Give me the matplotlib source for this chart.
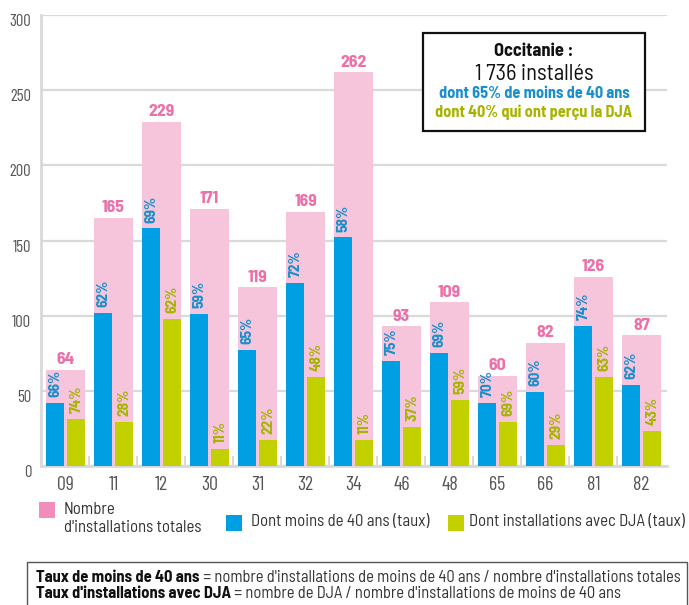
import matplotlib
matplotlib.use("Agg")
import matplotlib.pyplot as plt
from matplotlib.patches import Rectangle
from matplotlib.transforms import ScaledTranslation
from matplotlib import font_manager as fm
import numpy as np

# ---------------- data ----------------
departements = ["09", "11", "12", "30", "31", "32", "34", "46", "48", "65", "66", "81", "82"]
totales = [64, 165, 229, 171, 119, 169, 262, 93, 109, 60, 82, 126, 87]
moins40 = [42, 102, 158, 101, 77, 122, 152, 70, 75, 42, 49, 93, 54]
taux_moins40 = ["66%", "62%", "69%", "59%", "65%", "72%", "58%", "75%", "69%", "70%", "60%", "74%", "62%"]
dja = [31, 29, 98, 11, 17, 59, 17, 26, 44, 29, 14, 59, 23]
taux_dja = ["74%", "28%", "62%", "11%", "22%", "48%", "11%", "37%", "59%", "69%", "29%", "63%", "43%"]
yticks = [0, 50, 100, 150, 200, 250, 300]

# ---------------- style ----------------
W, H = 689, 605
avail = set(f.name for f in fm.fontManager.ttflist)
main = next((f for f in ["Barlow Semi Condensed", "Roboto Condensed", "Liberation Sans Narrow"] if f in avail), "DejaVu Sans")
cond = next((f for f in ["Barlow Condensed", "Roboto Condensed", main] if f in avail), main)
FONT = [main, "DejaVu Sans"]
FONT_AX = [cond, "DejaVu Sans"]
plt.rcParams["font.family"] = FONT
PINK_BAR = "#f6c5dc"
PINK_TXT = "#ec6fa7"
PINK_LEG = "#f08dbd"
BLUE = "#009fe3"
BLUE_TXT = "#1a8fcb"
GREEN = "#c2d000"
GREEN_TXT = "#a6b400"
GRID = "#d9d9d9"
AXTXT = "#555555"


def fx(x):
    return x / W


def fy(y):
    return 1 - y / H


fig = plt.figure(figsize=(W / 100, H / 100), dpi=100)
renderer = fig.canvas.get_renderer()


def size_for(text, target_px, weight="normal", family=None):
    t = fig.text(0, 0, text, fontsize=10, fontweight=weight, family=family or FONT)
    w = t.get_window_extent(renderer=renderer).width
    t.remove()
    return 10 * target_px / w


ax_left, ax_right, ax_top, ax_bot = 41, 667, 15, 466
ax = fig.add_axes([fx(ax_left), fy(ax_bot), (ax_right - ax_left) / W, (ax_bot - ax_top) / H])

n = len(departements)
x = np.arange(n)
grp_w = 39 / 48
sub_w = 18 / 48
ax.bar(x, totales, width=grp_w, color=PINK_BAR, zorder=2)
xb = x - grp_w / 2 + sub_w / 2
xg = x + grp_w / 2 - sub_w / 2
ax.bar(xb, moins40, width=sub_w, color=BLUE, zorder=3)
ax.bar(xg, dja, width=sub_w, color=GREEN, zorder=3)

fs_tot = size_for("229", 26, "bold")
fs_pct = size_for("66%", 27, "bold")
for i in range(n):
    ax.annotate(str(totales[i]), (x[i], totales[i]), xytext=(0, 4), textcoords="offset points",
                ha="center", va="baseline", color=PINK_TXT, fontsize=fs_tot, fontweight="bold", zorder=5)
    ax.annotate(taux_moins40[i], (xb[i], moins40[i]), xytext=(0.5, 4.3), textcoords="offset points",
                ha="center", va="bottom", rotation=90, color=BLUE_TXT, fontsize=fs_pct, fontweight="bold", zorder=5)
    ax.annotate(taux_dja[i], (xg[i], dja[i]), xytext=(0.5, 4.3), textcoords="offset points",
                ha="center", va="bottom", rotation=90, color=GREEN_TXT, fontsize=fs_pct, fontweight="bold", zorder=5)

left_lim = -0.51
ax.set_xlim(left_lim, left_lim + (ax_right - ax_left) / 48)
ax.set_ylim(0, 300)
fs_y = size_for("300", 22, "normal", FONT_AX)
fs_x = size_for("09", 17, "normal", FONT_AX)
ax.set_yticks(yticks)
ax.set_yticklabels([str(v) for v in yticks], color=AXTXT, fontsize=fs_y, family=FONT_AX)
ax.set_xticks(x)
ax.set_xticklabels(departements, color=AXTXT, fontsize=fs_x, family=FONT_AX)
ax.set_xticks(np.arange(n - 1) + 0.5, minor=True)
ax.tick_params(axis="x", which="major", length=0, pad=7.5)
ax.tick_params(axis="x", which="minor", length=7, width=1.5, color=GRID, direction="in")
ax.tick_params(axis="y", length=0, pad=7)
for lab in ax.get_yticklabels():
    lab.set_transform(lab.get_transform() + ScaledTranslation(0, -5 / 100, fig.dpi_scale_trans))
ax.yaxis.grid(True, color=GRID, linewidth=1.6, zorder=0)
ax.set_axisbelow(True)
for s in ["top", "right"]:
    ax.spines[s].set_visible(False)
ax.spines["left"].set_color(GRID)
ax.spines["left"].set_linewidth(2)
ax.spines["bottom"].set_color(GRID)
ax.spines["bottom"].set_linewidth(2)

# ---------------- info box ----------------
bx0, by0, bx1, by1 = 423, 33, 645, 131
fig.add_artist(Rectangle((fx(bx0), fy(by1)), (bx1 - bx0) / W, (by1 - by0) / H,
                         transform=fig.transFigure, facecolor="white", edgecolor="#111111",
                         linewidth=1.6, zorder=10))
cx = fx(534)
info = [("Occitanie :", 52, "bold", "#111111", 79),
        ("1 736 installés", 75, "normal", "#111111", 118),
        ("dont 65% de moins de 40 ans", 94, "bold", BLUE_TXT, 191),
        ("dont 40% qui ont perçu la DJA", 112, "bold", GREEN_TXT, 197)]
for txt, ypx, wt, col, wpx in info:
    fig.text(cx, fy(ypx), txt, ha="center", va="center", fontsize=size_for(txt, wpx, wt),
             fontweight=wt, color=col, zorder=11)

# ---------------- legend ----------------
def swatch(x0, y0, x1, y1, c):
    fig.add_artist(Rectangle((fx(x0), fy(y1)), (x1 - x0) / W, (y1 - y0) / H,
                             transform=fig.transFigure, facecolor=c, edgecolor="none"))


fs_leg = size_for("Dont installations avec DJA (taux)", 216)
LEGTXT = "#333333"
swatch(39, 502, 55, 518, PINK_LEG)
fig.text(fx(64), fy(510), "Nombre", ha="left", va="center", fontsize=fs_leg, color=LEGTXT)
fig.text(fx(64), fy(527), "d'installations totales", ha="left", va="center", fontsize=fs_leg, color=LEGTXT)
swatch(226, 515, 242, 531, BLUE)
fig.text(fx(251), fy(522), "Dont moins de 40 ans (taux)", ha="left", va="center", fontsize=fs_leg, color=LEGTXT)
swatch(448, 515, 464, 531, GREEN)
fig.text(fx(469), fy(522), "Dont installations avec DJA (taux)", ha="left", va="center", fontsize=fs_leg, color=LEGTXT)

# ---------------- footnote ----------------
fig.add_artist(Rectangle((fx(27), fy(615)), (687 - 27) / W, (615 - 562) / H,
                         transform=fig.transFigure, facecolor="white", edgecolor="#555555",
                         linewidth=1.0, clip_on=False))
b1 = "Taux de moins de 40 ans"
r1 = " = nombre d'installations de moins de 40 ans / nombre d'installations totales"
b2 = "Taux d'installations avec DJA"
r2 = " = nombre de DJA / nombre d'installations de moins de 40 ans"
wb = 10 * 155 / size_for(b1, 155, "bold")
wr = 10 * 155 / size_for(r1, 155)
fs_note = 10 * 646 / (wb + wr)


def mixed(xpx, ypx, bold, reg):
    t = fig.text(fx(xpx), fy(ypx), bold, ha="left", va="center", fontsize=fs_note,
                 fontweight="bold", color="#111111")
    bb = t.get_window_extent(renderer=renderer)
    fig.text(bb.x1 / W, fy(ypx), reg, ha="left", va="center", fontsize=fs_note, color="#333333")


mixed(36, 577, b1, r1)
mixed(36, 594, b2, r2)

fig.savefig("out.png", dpi=100)
